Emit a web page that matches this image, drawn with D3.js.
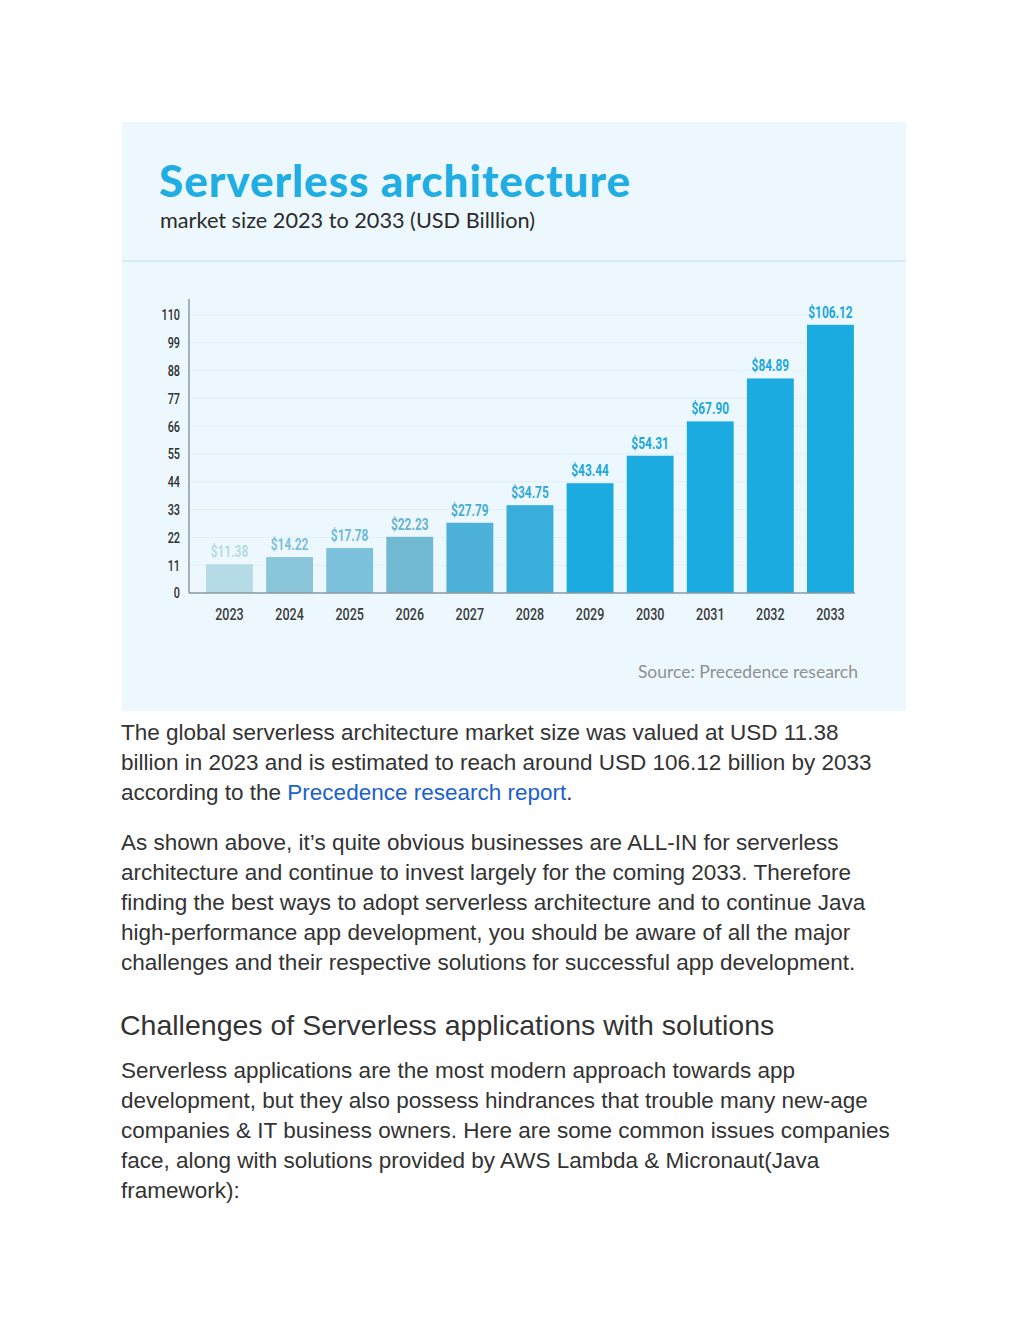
<!DOCTYPE html>
<html lang="en">
<head>
<meta charset="UTF-8">
<title>Serverless architecture market size</title>
<style>
  html, body { margin: 0; padding: 0; background: #fff; }
  svg { display: block; }
</style>
</head>
<body>
<script src="https://cdn.jsdelivr.net/npm/d3@7"></script>
<script>
// data
var years = ["2023", "2024", "2025", "2026", "2027", "2028", "2029", "2030", "2031", "2032", "2033"];
var marketSize = [11.38, 14.22, 17.78, 22.23, 27.79, 34.75, 43.44, 54.31, 67.90, 84.89, 106.12];
var yTicks = [0, 11, 22, 33, 44, 55, 66, 77, 88, 99, 110];
var barColors = ["#b5dbe7", "#8ac5da", "#7bc1db", "#71b8d3", "#4db1d9", "#3aaedb",
                 "#1babe0", "#1babe0", "#1babe0", "#1babe0", "#1babe0"];
var labelColors = ["#b7dae6", "#7fbfd6", "#6fbad6", "#69b3d0", "#48acd6", "#36a9d8",
                   "#1ea8dc", "#1ea8dc", "#1ea8dc", "#1ea8dc", "#1ea8dc"];

var W = 1024, H = 1325;
var svg = d3.select("body").append("svg")
    .attr("width", W)
    .attr("height", H);

// squeeze text horizontally, the chart uses a condensed face we don't have
function condense(sel, k) {
  sel.each(function() {
    var w = this.getComputedTextLength();
    d3.select(this).attr("textLength", w * k).attr("lengthAdjust", "spacingAndGlyphs");
  });
}

// chart panel
svg.append("rect")
    .attr("x", 122).attr("y", 122)
    .attr("width", 784).attr("height", 589)
    .attr("fill", "#ecf8fd");
svg.append("rect")
    .attr("x", 122).attr("y", 260)
    .attr("width", 784).attr("height", 2)
    .attr("fill", "#d3ecf5");

svg.append("text")
    .attr("x", 159).attr("y", 197)
    .attr("font-family", "Lato, 'Open Sans', sans-serif")
    .attr("font-weight", 900)
    .attr("font-size", 44)
    .attr("letter-spacing", 0.95)
    .attr("fill", "#1fade2")
    .text("Serverless architecture");

svg.append("text")
    .attr("x", 160).attr("y", 228)
    .attr("font-family", "Lato, 'Open Sans', sans-serif")
    .attr("font-size", 21.7)
    .attr("fill", "#2b2b2b")
    .text("market size 2023 to 2033 (USD Billlion)");

var condensed = "Roboto, 'Liberation Sans', sans-serif";

var x = d3.scaleBand()
    .domain(years)
    .range([199.4, 860.5])
    .paddingInner(0.22)
    .paddingOuter(0.11);

var y = d3.scaleLinear()
    .domain([0, 110])
    .range([593, 315]);

// gridlines
svg.append("g")
    .selectAll("line")
    .data(yTicks.slice(1))
    .enter()
    .append("line")
    .attr("x1", 190).attr("x2", 855)
    .attr("y1", function(d) { return y(d); })
    .attr("y2", function(d) { return y(d); })
    .attr("stroke", "#dff0f8")
    .attr("stroke-width", 1);

// bars
svg.append("g")
    .selectAll("rect")
    .data(marketSize)
    .enter()
    .append("rect")
    .attr("x", function(d, i) { return x(years[i]); })
    .attr("y", function(d) { return y(d); })
    .attr("width", x.bandwidth())
    .attr("height", function(d) { return y(0) - y(d); })
    .attr("fill", function(d, i) { return barColors[i]; });

// value labels
svg.append("g")
    .selectAll("text")
    .data(marketSize)
    .enter()
    .append("text")
    .attr("x", function(d, i) { return x(years[i]) + x.bandwidth() / 2; })
    .attr("y", function(d) { return y(d) - 7; })
    .attr("text-anchor", "middle")
    .attr("font-family", condensed)
    .attr("font-weight", "bold")
    .attr("font-size", 17)
    .attr("fill", function(d, i) { return labelColors[i]; })
    .text(function(d) { return "$" + d.toFixed(2); })
    .call(condense, 0.7);

// y axis
var yAxis = svg.append("g")
    .attr("transform", "translate(189,0)")
    .call(d3.axisLeft(y).tickValues(yTicks).tickSize(0).tickPadding(9));
yAxis.select(".domain").attr("stroke", "#8a9aa2").attr("stroke-width", 1.5)
    .attr("d", "M0,299V593");
yAxis.selectAll("text")
    .attr("font-family", condensed)
    .attr("font-size", 15.5)
    .attr("font-weight", 500)
    .attr("fill", "#2e2e2e")
    .call(condense, 0.7);

// x axis
var xAxis = svg.append("g")
    .attr("transform", "translate(0,593)")
    .call(d3.axisBottom(x).tickSize(0).tickPadding(15));
xAxis.select(".domain").attr("stroke", "#8a9aa2").attr("stroke-width", 1.5)
    .attr("d", "M189,0H855");
xAxis.selectAll("text")
    .attr("font-family", condensed)
    .attr("font-size", 16.5)
    .attr("font-weight", 500)
    .attr("fill", "#3a3a3a")
    .call(condense, 0.76);

svg.append("text")
    .attr("x", 858).attr("y", 678)
    .attr("text-anchor", "end")
    .attr("font-family", "Lato, 'Open Sans', sans-serif")
    .attr("font-size", 17.5)
    .attr("fill", "#8e9193")
    .text("Source: Precedence research");

// article text
var bodyFont = "'Liberation Sans', Arial, sans-serif";
var para1 = [
  [["The global serverless architecture market size was valued at USD 11.38", false]],
  [["billion in 2023 and is estimated to reach around USD 106.12 billion by 2033", false]],
  [["according to the ", false], ["Precedence research report", true], [".", false]]
];
var para2 = [
  "As shown above, it\u2019s quite obvious businesses are ALL-IN for serverless",
  "architecture and continue to invest largely for the coming 2033. Therefore",
  "finding the best ways to adopt serverless architecture and to continue Java",
  "high-performance app development, you should be aware of all the major",
  "challenges and their respective solutions for successful app development."
];
var heading = "Challenges of Serverless applications with solutions";
var para3 = [
  "Serverless applications are the most modern approach towards app",
  "development, but they also possess hindrances that trouble many new-age",
  "companies & IT business owners. Here are some common issues companies",
  "face, along with solutions provided by AWS Lambda & Micronaut(Java",
  "framework):"
];

var lineH = 30;
var bodySize = 22.5;
var p1 = svg.append("g");
para1.forEach(function(parts, i) {
  var t = p1.append("text")
      .attr("x", 121).attr("y", 740 + i * lineH)
      .attr("font-family", bodyFont)
      .attr("font-size", bodySize)
      .attr("fill", "#333");
  parts.forEach(function(p) {
    t.append("tspan").attr("fill", p[1] ? "#1a5fd0" : "#333").text(p[0]);
  });
});

svg.append("g").selectAll("text")
    .data(para2)
    .enter()
    .append("text")
    .attr("x", 121)
    .attr("y", function(d, i) { return 850 + i * lineH; })
    .attr("font-family", bodyFont)
    .attr("font-size", bodySize)
    .attr("fill", "#333")
    .text(function(d) { return d; });

svg.append("text")
    .attr("x", 120).attr("y", 1035)
    .attr("font-family", bodyFont)
    .attr("font-size", 28.5)
    .attr("fill", "#333")
    .text(heading);

svg.append("g").selectAll("text")
    .data(para3)
    .enter()
    .append("text")
    .attr("x", 121)
    .attr("y", function(d, i) { return 1078 + i * lineH; })
    .attr("font-family", bodyFont)
    .attr("font-size", bodySize)
    .attr("fill", "#333")
    .text(function(d) { return d; });
</script>
</body>
</html>
